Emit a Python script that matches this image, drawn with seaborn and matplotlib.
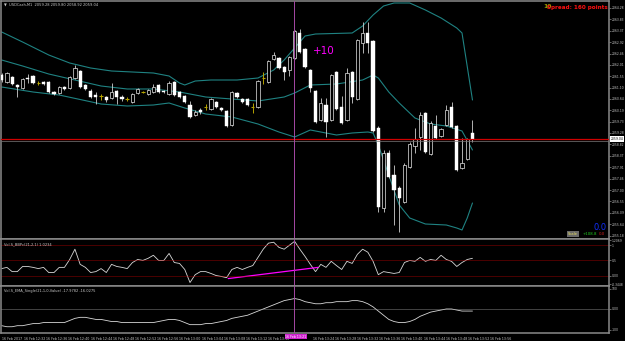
import numpy as np
import pandas as pd
import matplotlib
matplotlib.use("Agg")
import matplotlib.pyplot as plt
import matplotlib.transforms as mtransforms
import seaborn as sns

# ---------------- data ----------------
open_ = [2061.60, 2061.32, 2061.52, 2061.20, 2061.08, 2061.48, 2061.56, 2061.28, 2061.32, 2061.32,
         2060.92, 2060.88, 2061.12, 2061.08, 2061.48, 2061.76, 2061.20, 2060.96, 2060.80, 2060.76,
         2060.72, 2060.68, 2060.96, 2060.72, 2060.64, 2060.52, 2060.88, 2060.92, 2060.84, 2060.92,
         2061.20, 2060.96, 2060.84, 2061.32, 2060.92, 2060.76, 2060.40, 2060.00, 2060.20, 2060.32,
         2060.24, 2060.52, 2060.28, 2060.16, 2059.60, 2060.88, 2060.64, 2060.64, 2060.32, 2060.32,
         2061.48, 2061.32, 2062.24, 2062.28, 2061.92, 2061.80, 2062.28, 2063.28, 2062.64, 2061.80,
         2060.96, 2059.80, 2060.40, 2059.80, 2061.72, 2060.32, 2059.80, 2061.72, 2060.64, 2062.88,
         2063.28, 2062.96, 2059.48, 2056.28, 2058.48, 2057.60, 2057.08, 2056.52, 2057.92, 2058.76,
         2059.12, 2060.08, 2058.44, 2059.56, 2059.16, 2059.60, 2060.32, 2059.56, 2057.88, 2058.24,
         2059.28]
close_ = [2061.40, 2061.68, 2061.24, 2061.12, 2061.44, 2061.44, 2061.28, 2061.28, 2061.24, 2060.92,
          2060.84, 2061.12, 2061.04, 2061.52, 2061.88, 2061.12, 2061.04, 2060.72, 2060.72, 2060.76,
          2060.60, 2060.92, 2060.72, 2060.64, 2060.64, 2060.84, 2061.04, 2060.92, 2061.00, 2061.12,
          2060.92, 2060.92, 2061.28, 2060.80, 2060.72, 2060.52, 2059.92, 2060.12, 2060.12, 2060.32,
          2060.64, 2060.32, 2060.20, 2059.56, 2060.92, 2060.72, 2060.52, 2060.40, 2060.32, 2061.36,
          2061.48, 2062.16, 2062.40, 2061.88, 2061.72, 2062.32, 2063.36, 2062.52, 2061.92, 2061.08,
          2059.72, 2060.48, 2059.72, 2061.60, 2060.24, 2059.68, 2061.68, 2060.72, 2063.00, 2063.28,
          2062.88, 2059.36, 2056.32, 2058.48, 2057.52, 2057.00, 2056.68, 2058.00, 2058.84, 2059.04,
          2060.00, 2058.52, 2059.68, 2059.08, 2059.44, 2060.20, 2059.52, 2057.80, 2058.08, 2059.04,
          2059.04]
high_ = [2061.68, 2061.72, 2061.56, 2061.24, 2061.48, 2061.64, 2061.60, 2061.36, 2061.36, 2061.36,
         2060.96, 2061.16, 2061.16, 2061.56, 2062.00, 2061.80, 2061.24, 2061.04, 2060.92, 2060.84,
         2060.76, 2061.28, 2061.00, 2060.80, 2060.72, 2060.88, 2061.08, 2060.96, 2061.04, 2061.24,
         2061.24, 2061.00, 2061.36, 2061.36, 2060.96, 2060.80, 2060.56, 2060.20, 2060.28, 2060.44,
         2060.68, 2060.56, 2060.32, 2060.20, 2060.96, 2060.92, 2060.68, 2060.68, 2060.48, 2061.40,
         2061.72, 2062.20, 2062.52, 2062.32, 2061.96, 2062.36, 2063.40, 2063.44, 2062.68, 2061.84,
         2061.00, 2060.68, 2060.68, 2061.64, 2061.76, 2060.76, 2061.88, 2061.76, 2063.04, 2063.72,
         2063.72, 2063.00, 2059.56, 2058.60, 2058.60, 2058.00, 2057.16, 2058.08, 2058.92, 2059.48,
         2060.12, 2060.12, 2059.76, 2060.00, 2059.48, 2060.40, 2060.52, 2059.60, 2059.08, 2059.08,
         2059.80]
low_ = [2061.32, 2061.28, 2061.20, 2060.72, 2061.04, 2061.28, 2061.24, 2061.20, 2061.20, 2060.88,
        2060.80, 2060.84, 2061.00, 2061.04, 2061.44, 2061.08, 2061.00, 2060.68, 2060.44, 2060.60,
        2060.52, 2060.64, 2060.44, 2060.56, 2060.56, 2060.48, 2060.84, 2060.88, 2060.80, 2060.88,
        2060.88, 2060.88, 2060.80, 2060.76, 2060.68, 2060.48, 2059.88, 2059.96, 2060.04, 2060.20,
        2060.20, 2060.28, 2060.16, 2059.52, 2059.56, 2060.68, 2060.48, 2060.36, 2060.08, 2060.28,
        2061.24, 2061.28, 2062.20, 2061.84, 2061.40, 2061.56, 2062.24, 2062.48, 2061.88, 2060.92,
        2059.68, 2059.76, 2059.12, 2059.76, 2060.20, 2059.64, 2059.76, 2060.48, 2060.60, 2062.48,
        2062.48, 2059.32, 2056.12, 2056.12, 2057.48, 2055.60, 2055.32, 2056.48, 2057.88, 2058.48,
        2058.60, 2058.48, 2058.40, 2059.04, 2059.12, 2059.56, 2059.48, 2057.76, 2057.84, 2058.20,
        2058.92]

upper_idx = [0, 4, 9, 13, 17, 21, 25, 29, 32, 34, 35, 37, 40, 45, 49, 52, 54, 56, 58, 60,
             67, 69, 71, 73, 75, 78, 81, 84, 87, 88, 90]
upper_band = [2063.32, 2062.92, 2062.40, 2062.08, 2061.88, 2061.76, 2061.72, 2061.68, 2061.56, 2061.28,
              2061.20, 2061.36, 2061.40, 2061.40, 2061.48, 2061.80, 2062.20, 2062.68, 2063.16, 2063.24,
              2063.28, 2063.56, 2064.00, 2064.36, 2064.48, 2064.48, 2064.20, 2063.88, 2063.48, 2063.28,
              2060.60]
middle_idx = [0, 4, 9, 14, 19, 24, 29, 34, 39, 44, 49, 54, 56, 59, 64, 69, 71, 72, 74, 76,
              79, 82, 85, 88, 90]
middle_band = [2062.20, 2061.96, 2061.64, 2061.40, 2061.16, 2061.04, 2061.04, 2060.92, 2060.72, 2060.64,
               2060.56, 2060.72, 2060.88, 2061.20, 2061.24, 2061.40, 2061.60, 2061.48, 2060.92, 2060.48,
               2059.88, 2059.64, 2059.56, 2059.36, 2058.60]
lower_idx = [0, 6, 11, 19, 24, 29, 32, 35, 39, 44, 49, 53, 56, 59, 64, 67, 70, 71, 72, 74,
             76, 78, 81, 85, 87, 88, 89, 90]
lower_band = [2061.12, 2060.92, 2060.80, 2060.44, 2060.36, 2060.40, 2060.48, 2060.28, 2060.04, 2059.92,
              2059.64, 2059.32, 2059.12, 2059.40, 2059.20, 2059.28, 2059.32, 2059.28, 2058.80, 2057.60,
              2056.40, 2055.88, 2055.64, 2055.60, 2055.48, 2055.40, 2055.88, 2056.48]

bbp_values = [0.23, 0.27, 0.13, 0.13, 0.30, 0.30, 0.27, 0.23, 0.27, 0.10,
              0.10, 0.27, 0.27, 0.53, 0.87, 0.37, 0.27, 0.10, 0.13, 0.23,
              0.10, 0.37, 0.30, 0.27, 0.23, 0.43, 0.53, 0.50, 0.57, 0.67,
              0.50, 0.50, 0.73, 0.43, 0.40, 0.20, -0.23, 0.03, 0.13, 0.13,
              0.07, 0.00, -0.03, -0.07, 0.20, 0.27, 0.20, 0.27, 0.33, 0.60,
              0.87, 1.07, 1.10, 0.93, 0.87, 1.00, 1.13, 0.87, 0.63, 0.37,
              0.13, 0.37, 0.27, 0.47, 0.33, 0.20, 0.47, 0.40, 0.70, 0.87,
              0.77, 0.47, 0.03, 0.13, 0.10, 0.07, 0.10, 0.43, 0.50, 0.47,
              0.60, 0.47, 0.53, 0.50, 0.67, 0.53, 0.47, 0.30, 0.43, 0.53,
              0.57]
bbp_levels = [1.0, 0.5, 0.0]
div_idx = [43.3, 60.5]
div_values = [-0.10, 0.27]

ema_values = [-80, -85, -85, -80, -80, -75, -70, -70, -65, -65,
              -65, -65, -65, -55, -45, -40, -40, -45, -50, -50,
              -55, -60, -60, -65, -65, -65, -65, -65, -65, -65,
              -60, -55, -50, -50, -55, -65, -75, -75, -75, -70,
              -70, -65, -60, -55, -45, -40, -35, -30, -20, -10,
              0, 10, 20, 30, 40, 45, 50, 45, 35, 30,
              25, 25, 30, 30, 35, 35, 35, 40, 40, 35,
              25, 10, -10, -30, -50, -60, -65, -65, -60, -50,
              -35, -25, -15, -10, -5, 0, 0, -5, -10, -10,
              -10]

price_ticks = [2064.28, 2063.83, 2063.37, 2062.92, 2062.46, 2062.01, 2061.55, 2061.10, 2060.64, 2060.19,
               2059.73, 2059.28, 2058.82, 2058.37, 2057.91, 2057.46, 2057.00, 2056.55, 2056.09, 2055.64,
               2055.18]
current_price = 2059.04
ask_price = 2058.96
time_labels = ["16 Feb 2017", "16 Feb 12:32", "16 Feb 12:36", "16 Feb 12:40", "16 Feb 12:44",
               "16 Feb 12:48", "16 Feb 12:52", "16 Feb 12:56", "16 Feb 13:00", "16 Feb 13:04",
               "16 Feb 13:08", "16 Feb 13:12", "16 Feb 13:16", "", "16 Feb 13:24",
               "16 Feb 13:28", "16 Feb 13:32", "16 Feb 13:36", "16 Feb 13:40", "16 Feb 13:44",
               "16 Feb 13:48", "16 Feb 13:52", "16 Feb 13:56"]
cursor_label = "16 Feb 13:21"
cursor_idx = 55.8
bbp_tick_vals = [1.17, 1.0, 0.5, 0.0, -0.28]
bbp_tick_text = ["1.2069", "1", "0.5", "0.00", "-0.3448"]
ema_tick_vals = [98, 0, -100]
ema_tick_text = ["100", "0.00", "-100"]

# ---------------- style ----------------
sns.set_theme(style="dark")
plt.rcParams["font.family"] = ["DejaVu Sans"]
plt.rcParams["axes.facecolor"] = "black"
plt.rcParams["figure.facecolor"] = "black"

W, H = 625, 341
fig = plt.figure(figsize=(6.25, 3.41), dpi=100, facecolor="black")


def box(top, bottom):
    return [1 / W, (H - bottom) / H, 608 / W, (bottom - top) / H]


ax = fig.add_axes(box(1, 239))
ax2 = fig.add_axes(box(239, 286), sharex=ax)
ax3 = fig.add_axes(box(286, 333), sharex=ax)

GRAY = "#8a8a8a"
TXT = "#c8c8c8"
TEAL = "#1f8282"
for a in (ax, ax2, ax3):
    a.set_facecolor("black")
    for s in a.spines.values():
        s.set_color(GRAY)
        s.set_linewidth(1.1)
    a.grid(False)
    a.yaxis.tick_right()
    a.tick_params(axis="y", colors=GRAY, labelcolor=TXT, length=1.5, width=0.5, pad=0.6, labelsize=2.2)
    a.set_xlabel("")
    a.set_ylabel("")

# ---------------- candles ----------------
df = pd.DataFrame({"idx": np.arange(len(open_)), "open": open_, "high": high_,
                   "low": low_, "close": close_})
bull = df[df.close > df.open]
bear = df[df.close < df.open]
doji = df[df.close == df.open]
body = df[df.close != df.open]

ax.vlines(body.idx, body.low, body.high, color="#cfcfcf", lw=0.6, zorder=2)
ax.vlines(doji.idx, doji.low, doji.high, color="#b5a300", lw=0.7, zorder=2)
ax.hlines(doji.open, doji.idx - 0.33, doji.idx + 0.33, color="#b5a300", lw=0.8, zorder=3)
ax.bar(bull.idx, bull.close - bull.open, bottom=bull.open, width=0.62,
       facecolor="black", edgecolor="#e6e6e6", linewidth=0.5, zorder=3)
ax.bar(bear.idx, bear.open - bear.close, bottom=bear.close, width=0.62,
       facecolor="white", edgecolor="white", linewidth=0.3, zorder=3)

# Bollinger bands
for xi, yv in ((upper_idx, upper_band), (middle_idx, middle_band), (lower_idx, lower_band)):
    sns.lineplot(x=xi, y=yv, ax=ax, color=TEAL, lw=0.8, legend=False, zorder=1)

ax.axhline(current_price, color="#d00000", lw=0.9, zorder=4)
ax.axhline(ask_price, color="#7a7a7a", lw=0.5, zorder=4)
ax.set_xlim(-0.13, 116.1)
ax.set_ylim(2055.04, 2064.56)
ax.set_yticks(price_ticks)
ax.set_yticklabels([f"{v:.2f}" for v in price_ticks])
ax.tick_params(axis="x", bottom=False, labelbottom=False)

ax.text(1.003, current_price, f"{current_price:.2f}",
        transform=mtransforms.blended_transform_factory(ax.transAxes, ax.transData),
        fontsize=2.2, color="black", va="center", ha="left",
        bbox=dict(boxstyle="square,pad=0.25", facecolor="white", edgecolor="none"), zorder=10, clip_on=False)

ax.text(59.5, 2062.56, "+10", color="#ff00ff", fontsize=7.5, va="center", ha="left", zorder=6)

# ---------------- BBP panel ----------------
sns.lineplot(x=np.arange(len(bbp_values)), y=bbp_values, ax=ax2, color="#d8d8d8", lw=0.6, legend=False)
sns.lineplot(x=div_idx, y=div_values, ax=ax2, color="#ff00ff", lw=0.9, legend=False)
for lv in bbp_levels:
    ax2.axhline(lv, color="#b00000", lw=0.6, ls=(0, (1.2, 1.2)))
ax2.set_ylim(-0.3448, 1.2069)
ax2.set_yticks(bbp_tick_vals)
ax2.set_yticklabels(bbp_tick_text)
ax2.tick_params(axis="x", bottom=False, labelbottom=False)

# ---------------- EMA panel ----------------
sns.lineplot(x=np.arange(len(ema_values)), y=ema_values, ax=ax3, color="#d8d8d8", lw=0.6, legend=False)
ax3.axhline(0, color="#9a9a9a", lw=0.6, ls=(0, (1.2, 1.2)))
ax3.set_ylim(-115, 110)
ax3.set_yticks(ema_tick_vals)
ax3.set_yticklabels(ema_tick_text)

tick_pos = np.arange(len(time_labels)) * 4.245
ax3.set_xticks(tick_pos)
ax3.set_xticklabels(time_labels, ha="left")
ax3.tick_params(axis="x", colors=GRAY, labelcolor=TXT, length=2, width=0.5, pad=0.8, labelsize=2.3)
ax3.set_xlim(-0.13, 116.1)

for a in (ax, ax2, ax3):
    a.axvline(cursor_idx, color="#a548a5", lw=0.7, zorder=5)

ax3.text(cursor_idx + 0.4, -0.035, cursor_label,
         transform=mtransforms.blended_transform_factory(ax3.transData, ax3.transAxes),
         fontsize=2.3, color="white", ha="center", va="top", clip_on=False,
         bbox=dict(boxstyle="square,pad=0.15", facecolor="#d020d0", edgecolor="none"))

# ---------------- texts ----------------
def ftext(x, y, s, **kw):
    fig.text(x / W, 1 - y / H, s, **kw)


ftext(4, 5, "\u25bc  USDCash,M1  2059.28 2059.80 2058.92 2059.04", fontsize=2.6, color=TXT, va="center")
ftext(4, 244, "Vol.S_BBPc(21,2,1) 1.0234", fontsize=2.6, color=TXT, va="center")
ftext(4, 291, "Vol.S_EMA_Single(21,1,0,Value) -17.9782 -16.0275", fontsize=2.6, color=TXT, va="center")
ftext(543, 7, "10", fontsize=4.4, color="#9a9a00", va="center", fontweight="bold")
ftext(547, 7, "Spread: 160 points", fontsize=4.1, color="#ff1010", va="center", fontweight="bold")
ftext(593, 227, "0.0", fontsize=6, color="#1030ff", va="center")
ftext(568, 234, "Scale", fontsize=2.6, color="#e8e060", va="center",
      bbox=dict(boxstyle="square,pad=0.3", facecolor="#6a6a6a", edgecolor="none"))
ftext(583, 234, "+108.8", fontsize=2.8, color="#20d020", va="center")
ftext(599, 234, "0.0", fontsize=2.8, color="#d02020", va="center")

fig.savefig("out.png", dpi=100, facecolor="black")
